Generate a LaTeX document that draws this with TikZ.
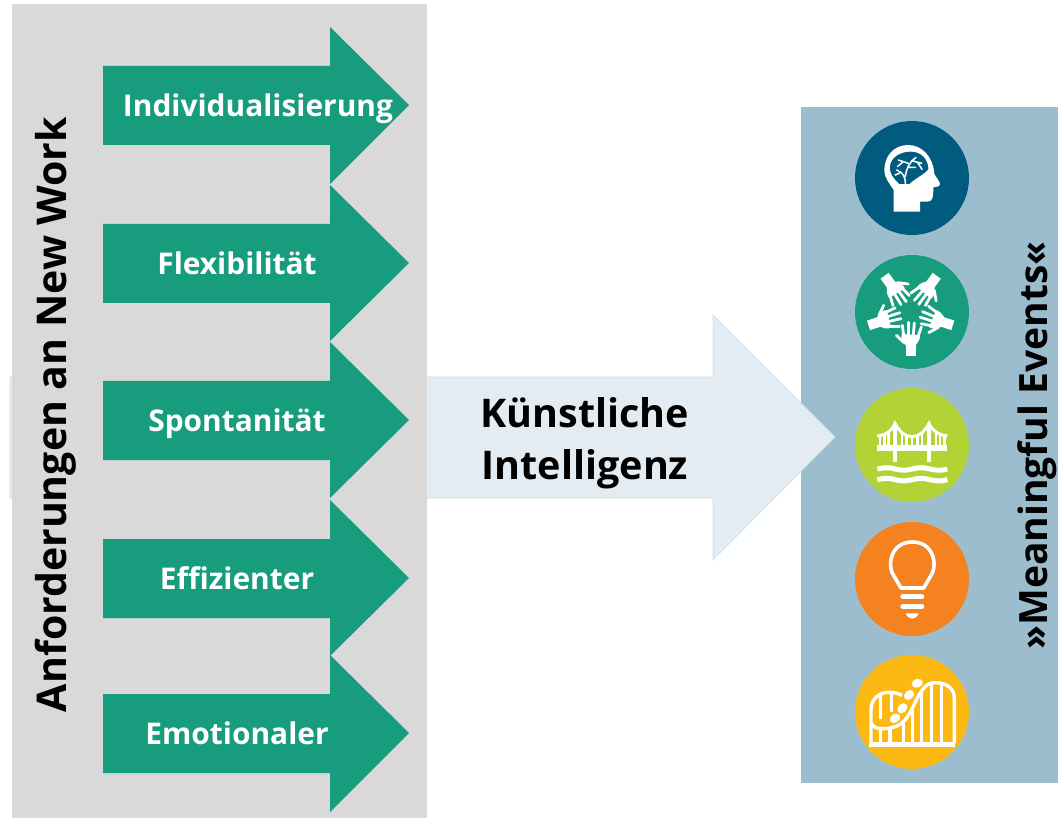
\documentclass[tikz,border=0pt]{standalone}
\usepackage{fontspec}
\setmainfont{Open Sans}
\definecolor{panelgrey}{HTML}{D9D9D9}
\definecolor{panelblue}{HTML}{9BBDCE}
\definecolor{fhgreen}{HTML}{179C7D}
\definecolor{paleblue}{HTML}{E3ECF2}
\definecolor{paleedge}{HTML}{CFE0EA}
\definecolor{cblue}{HTML}{005B7F}
\definecolor{clime}{HTML}{B2D235}
\definecolor{corange}{HTML}{F58220}
\definecolor{cyellow}{HTML}{FDB913}
\newcommand{\myhand}{%
  \fill[white] (-15,0) -- (15,0) -- (15,-34) -- (-15,-34) -- cycle;
  \fill[white] (-15,-32) .. controls (-27,-42) and (-29,-54) .. (-27,-66) -- (28,-62) .. controls (28,-48) and (22,-42) .. (15,-32) -- cycle;
  \draw[white,line width=2.8pt,line cap=round] (-21,-62) -- (-25,-92);
  \draw[white,line width=2.8pt,line cap=round] (-7,-64) -- (-7,-101);
  \draw[white,line width=2.8pt,line cap=round] (8,-64) -- (11,-99);
  \draw[white,line width=2.8pt,line cap=round] (22,-58) -- (32,-87);
  \draw[white,line width=2.8pt,line cap=round] (-20,-40) -- (-43,-62);
}
\tikzset{
  x=1pt,y=-1pt,
  greenarrow/.style={fill=fhgreen,draw=none},
  arrowlabel/.style={text=white,font=\fontsize{29.9}{32}\selectfont\bfseries,inner sep=0pt,anchor=base},
  sidelabel/.style={text=black,font=\fontsize{39}{40}\selectfont\bfseries,inner sep=0pt,rotate=90,anchor=center},
  iconcircle/.style={circle,minimum size=114pt,inner sep=0pt,draw=none},
  iconz/.style={shift={#1},x=0.3333pt,y=-0.3333pt},
}
\begin{document}
\begin{tikzpicture}
\useasboundingbox (0,0) rectangle (1058,818);
\fill[white] (0,0) rectangle (1058,818);
% panels
\fill[panelblue] (801,107) rectangle (1058,783);
% big pale arrow
\filldraw[fill=paleblue,draw=paleedge,line width=0.7pt] (10,377) -- (713,377) -- (713,315) -- (835,437) -- (713,560) -- (713,498) -- (10,498) -- cycle;
\fill[panelgrey] (12,4) rectangle (427,818);
% green arrows
\fill[greenarrow] (103,66) -- (330,66) -- (330,27) -- (409,105) -- (330,184) -- (330,145) -- (103,145) -- cycle;
\fill[greenarrow] (103,224) -- (330,224) -- (330,185) -- (409,263) -- (330,341) -- (330,303) -- (103,303) -- cycle;
\fill[greenarrow] (103,381) -- (330,381) -- (330,342) -- (409,420) -- (330,498) -- (330,460) -- (103,460) -- cycle;
\fill[greenarrow] (103,539) -- (330,539) -- (330,500) -- (409,578) -- (330,656) -- (330,618) -- (103,618) -- cycle;
\fill[greenarrow] (103,694) -- (330,694) -- (330,655) -- (409,733) -- (330,812) -- (330,773) -- (103,773) -- cycle;
\node[arrowlabel] (t1) at (258,116.5) {Individualisierung};
\node[arrowlabel] (t2) at (237,274.5) {Flexibilität};
\node[arrowlabel] (t3) at (237,431.5) {Spontanität};
\node[arrowlabel] (t4) at (237,589.5) {Effizienter};
\node[arrowlabel] (t5) at (237,744.5) {Emotionaler};
\node[sidelabel,font=\fontsize{41}{44}\selectfont\bfseries] (left) at (56,414.5) {Anforderungen an New Work};
\node[sidelabel] (right) at (1037.5,445.5) {»Meaningful Events«};
\node[text=black,font=\fontsize{39.5}{52}\selectfont\bfseries,align=center,inner sep=0pt] (ki) at (585,443) {Künstliche\\Intelligenz};
% circles
\node[iconcircle,fill=cblue] (c1) at (912,178) {};
\node[iconcircle,fill=fhgreen] (c2) at (912,312) {};
\node[iconcircle,fill=clime] (c3) at (912,445) {};
\node[iconcircle,fill=corange] (c4) at (912,579) {};
\node[iconcircle,fill=cyellow] (c5) at (912,712) {};
% head icon
\begin{scope}[iconz={(840,110)}]
\fill[white] (161,305) -- (240,305) -- (240,275) -- (262,275) .. controls (278,275) and (280,262) .. (280,232) -- (296,229) .. controls (302,226) and (301,219) .. (297,214) -- (283,192) .. controls (280,140) and (245,105) .. (205,105) .. controls (160,105) and (133,140) .. (133,180) .. controls (133,205) and (150,222) .. (161,240) -- cycle;
\fill[cblue] (178,222) .. controls (160,205) and (148,190) .. (150,170) .. controls (152,140) and (185,125) .. (212,125) .. controls (245,125) and (265,150) .. (265,178) .. controls (250,195) and (225,205) .. (208,222) -- cycle;
\draw[white,line width=1.5pt,line cap=round,line join=round]
  (196,222) .. controls (196,200) and (190,188) .. (170,180)
  (196,200) .. controls (200,175) and (205,160) .. (228,142)
  (205,160) -- (175,150) (190,155) -- (172,170) (215,152) -- (245,160) (232,156) -- (246,178) (205,172) -- (226,172) (178,190) -- (165,195);
\end{scope}
% hands icon
\begin{scope}[iconz={(840,110)}]
\foreach \a in {0,72,144,216,288} {
  \begin{scope}[shift={(212,605)},rotate=\a,shift={(0,133)}]
    \myhand
  \end{scope}
}
\end{scope}
% bridge icon
\begin{scope}[iconz={(840,380)}]
\fill[white] (112,195) rectangle (322,214);
\fill[white] (158,130) rectangle (172,245);
\fill[white] (260,130) rectangle (274,245);
\draw[white,line width=3pt] (112,168) .. controls (140,165) and (158,150) .. (165,130) .. controls (178,155) and (195,170) .. (216,170) .. controls (237,170) and (254,155) .. (267,130) .. controls (275,150) and (295,165) .. (322,168);
\foreach \hx/\hy in {120/168,134/163,146/152,186/158,200/168,216/171,232/168,246/158,288/152,300/163,314/168} {
  \draw[white,line width=2.4pt] (\hx,\hy) -- (\hx,196);
}
\foreach \wy in {267,299} {
  \draw[white,line width=5pt] (112,\wy) .. controls (135,\wy-5) and (150,\wy-5) .. (165,\wy) .. controls (185,\wy+5) and (195,\wy+5) .. (217,\wy) .. controls (235,\wy-5) and (250,\wy-5) .. (270,\wy) .. controls (290,\wy+5) and (305,\wy+5) .. (322,\wy);
}
\end{scope}
% bulb icon
\begin{scope}[iconz={(840,510)}]
\draw[white,line width=3.6pt,line join=round] (183,234) -- (163,200) .. controls (140,170) and (150,96) .. (217,96) .. controls (284,96) and (294,170) .. (271,200) -- (251,234) -- cycle;
\draw[white,line width=4.6pt,line cap=round] (188,260) -- (246,260);
\draw[white,line width=4.6pt,line cap=round] (188,290) -- (246,290);
\fill[white] (197,310) -- (236,310) .. controls (232,320) and (225,326) .. (217,326) .. controls (208,326) and (201,320) .. (197,310) -- cycle;
\end{scope}
% roller coaster icon
\begin{scope}[iconz={(840,510)}]
\fill[white] (88,696) rectangle (346,711);
\draw[white,line width=3.4pt] (93,700) -- (93,600) .. controls (93,565) and (120,547) .. (145,547) .. controls (165,547) and (178,551) .. (186,557);
\draw[white,line width=3.4pt] (93,640) .. controls (100,650) and (110,656) .. (122,656) .. controls (135,656) and (150,656) .. (165,650) .. controls (225,635) and (225,518) .. (285,518) .. controls (320,518) and (343,535) .. (343,565) -- (343,700);
\foreach \vx/\vy in {122/656,150/654,190/636,218/600,245/540,275/520,305/524} {
  \draw[white,line width=3.2pt] (\vx,\vy) -- (\vx,700);
}
\draw[white,line width=3.2pt] (122,558) -- (122,626);
\draw[white,line width=3.2pt] (155,548) -- (155,606);
\foreach \cx/\cy/\ca in {165/625/30,187/595/45,207/555/45,232/520/15} {
  \fill[white] (\cx,\cy) ellipse [x radius=17,y radius=13,rotate=\ca];
}
\end{scope}
\end{tikzpicture}
\end{document}
